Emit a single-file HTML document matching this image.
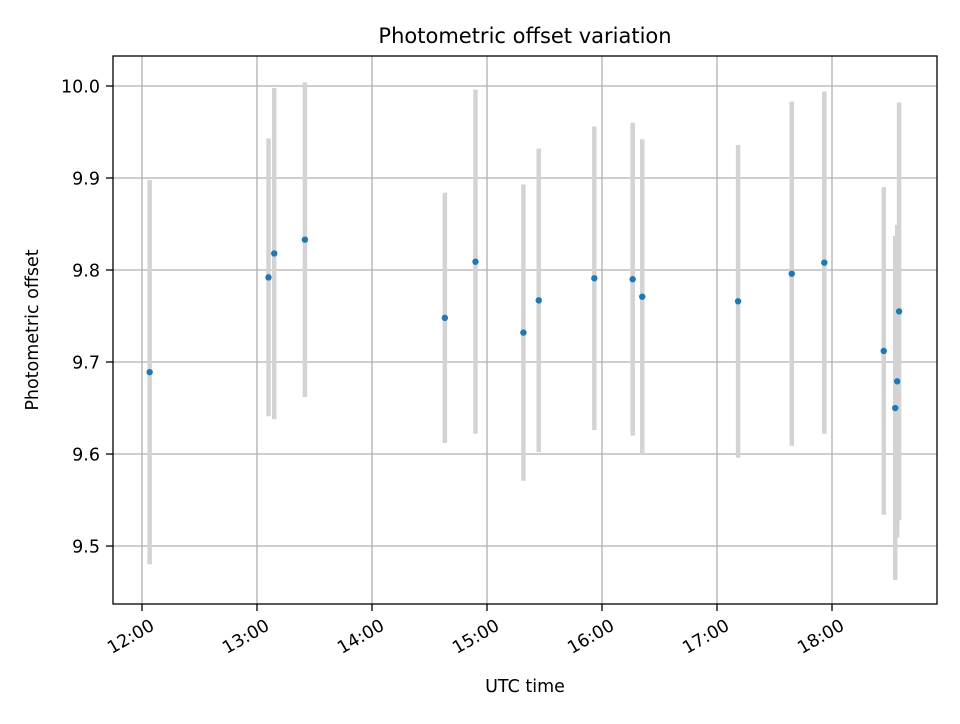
<!DOCTYPE html>
<html><head><meta charset="utf-8"><style>
body{margin:0;background:#fff;font-family:"DejaVu Sans","Liberation Sans",sans-serif}
text{font-family:"DejaVu Sans","Liberation Sans",sans-serif;fill:#000}
</style></head><body>
<svg id="chart" width="960" height="720" xmlns="http://www.w3.org/2000/svg"></svg>
<script>
const times = ["12:04","13:06","13:09","13:25","14:38","14:54","15:19","15:27","15:56","16:16","16:21","17:11","17:39","17:56","18:27","18:33","18:34","18:35"];
const offsets = [9.689,9.792,9.818,9.833,9.748,9.809,9.732,9.767,9.791,9.790,9.771,9.766,9.796,9.808,9.712,9.650,9.679,9.755];
const errors = [0.209,0.151,0.180,0.171,0.136,0.187,0.161,0.165,0.165,0.170,0.171,0.170,0.187,0.186,0.178,0.187,0.170,0.227];
const xTickLabels = ["12:00","13:00","14:00","15:00","16:00","17:00","18:00"];
const yTickValues = [9.5,9.6,9.7,9.8,9.9,10.0];

const svg = document.getElementById('chart');
const NS = "http://www.w3.org/2000/svg";
const L=113,R=937,T=56,B=604;
const xMin=11.748,xMax=18.913,yMin=9.437,yMax=10.0326;
const toH = s => { const p=s.split(':'); return +p[0]+(+p[1])/60; };
const xs = h => L+(h-xMin)/(xMax-xMin)*(R-L);
const ys = v => B-(v-yMin)/(yMax-yMin)*(B-T);
function mk(tag,attrs,parent){const e=document.createElementNS(NS,tag);for(const k in attrs)e.setAttribute(k,attrs[k]);(parent||svg).appendChild(e);return e;}

const grid = mk('g',{});


xTickLabels.forEach(t=>{const x=xs(toH(t));mk('line',{x1:x,x2:x,y1:T,y2:B,stroke:'#b0b0b0','stroke-width':1.3},grid);});
yTickValues.forEach(v=>{const y=ys(v);mk('line',{x1:L,x2:R,y1:y,y2:y,stroke:'#b0b0b0','stroke-width':1.3},grid);});

const eb = mk('g',{});


times.forEach((t,i)=>{const x=xs(toH(t));
  const l=mk('line',{x1:x,x2:x,y1:ys(offsets[i]+errors[i]),y2:ys(offsets[i]-errors[i]),stroke:'#d3d3d3','stroke-width':4.5},eb);
  
  
});
const pts = mk('g',{});


times.forEach((t,i)=>{
  const c=mk('circle',{cx:xs(toH(t)),cy:ys(offsets[i]),r:3.2,fill:'#1f77b4'},pts);
  
  
});

const frame=mk('rect',{x:L,y:T,width:R-L,height:B-T,fill:'none',stroke:'#000','stroke-width':1.3});



const xa=mk('g',{});


xTickLabels.forEach(t=>{const x=xs(toH(t));
  mk('line',{x1:x,x2:x,y1:B,y2:B+7,stroke:'#000','stroke-width':1.3},xa);
  const tx=mk('text',{x:0,y:0,'font-size':17.5,'text-anchor':'end',transform:`translate(${x+6} ${B+12}) rotate(-30) translate(0 15)`},xa);
  
  
  tx.textContent=t;});
const ya=mk('g',{});


yTickValues.forEach(v=>{const y=ys(v);
  mk('line',{x1:L-7,x2:L,y1:y,y2:y,stroke:'#000','stroke-width':1.3},ya);
  const tx=mk('text',{x:L-13,y:y+6.5,'font-size':17.5,'text-anchor':'end'},ya);
  
  
  tx.textContent=v.toFixed(1);});

const title=mk('text',{x:(L+R)/2,y:43,'font-size':21,'text-anchor':'middle'});


title.textContent='Photometric offset variation';
const xt=mk('text',{x:(L+R)/2,y:692,'font-size':17.5,'text-anchor':'middle'});


xt.textContent='UTC time';
const yt=mk('text',{x:38,y:330,'font-size':17.5,'text-anchor':'middle',transform:'rotate(-90 38 330)'});


yt.textContent='Photometric offset';
</script>
</body></html>
